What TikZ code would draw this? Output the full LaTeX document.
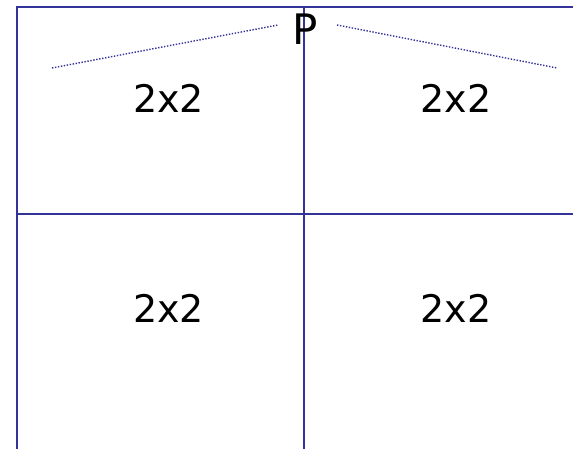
\documentclass[tikz,border=0pt]{standalone}
\usepackage{fontspec}
\setmainfont{DejaVu Sans}
\definecolor{frame}{RGB}{51,51,153}
\begin{document}
\begin{tikzpicture}[x=1pt,y=-1pt,
  gridline/.style={draw=frame,line width=2.3pt},
  dotline/.style={draw=frame,line width=1.4pt,dash pattern=on 1.4pt off 1.6pt},
  cell/.style={font=\fontsize{38}{38}\selectfont,inner sep=0pt,anchor=center},
  plabel/.style={font=\fontsize{42}{42}\selectfont,inner sep=0pt,anchor=center}]
\useasboundingbox[fill=white] (0,0) rectangle (573,449);
\coordinate (tl) at (17,7);
\coordinate (tr) at (573,7);
\coordinate (bl) at (17,449);
\coordinate (tm) at (304,7);
\coordinate (bm) at (304,449);
\coordinate (ml) at (17,214);
\coordinate (mr) at (573,214);
\draw[gridline] (bl) -- (tl) -- (tr);
\draw[gridline] (tm) -- (bm);
\draw[gridline] (ml) -- (mr);
\coordinate (d1) at (52,68);
\coordinate (d2) at (278,25);
\coordinate (d3) at (337,25);
\coordinate (d4) at (557,68);
\draw[dotline] (d1) -- (d2);
\draw[dotline] (d3) -- (d4);
\node[plabel] (p) at (305,29.5) {P};
\node[cell] (c11) at (168.5,98.5) {2x2};
\node[cell] (c12) at (456,98.5) {2x2};
\node[cell] (c21) at (168.5,308) {2x2};
\node[cell] (c22) at (456,308) {2x2};
\end{tikzpicture}
\end{document}
